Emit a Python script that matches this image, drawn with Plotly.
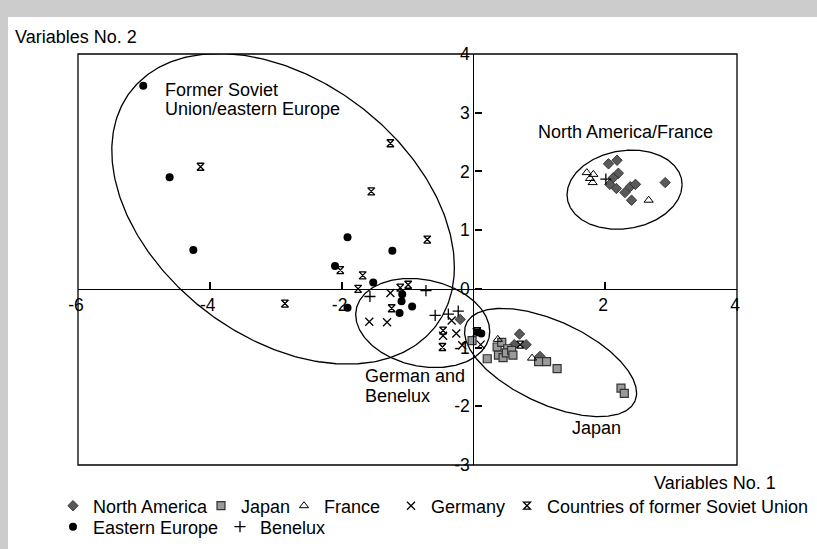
import numpy as np
import plotly.graph_objects as go

W, H = 817, 549
# plot frame in pixels (left, right, top, bottom)
PL, PR, PT, PB = 78, 737, 54, 465

FONT = "Liberation Sans, Arial, Helvetica, sans-serif"
FS = 17.5

x_range = [-6, 4]
y_range = [-3, 4]
x_ticks = [-6, -4, -2, 2, 4]
x_tick_labels = ["-6", "-4", "-2", "2", "4"]
y_ticks = [-3, -2, -1, 0, 1, 2, 3, 4]
y_tick_labels = ["-3", "-2", "-1", "0", "1", "2", "3", "4"]

# ---- country scores on the first two variables ----
north_america_x = [2.05, 2.18, 2.20, 2.12, 2.07, 2.17, 2.30, 2.38, 2.46, 2.40, 2.91,
                   -0.20, 0.70, 0.62, 0.80, 1.01]
north_america_y = [2.13, 2.19, 1.97, 1.89, 1.78, 1.71, 1.64, 1.74, 1.78, 1.51, 1.81,
                   -0.52, -0.77, -0.95, -0.95, -1.15]

japan_x = [-0.02, 0.21, 0.36, 0.43, 0.38, 0.45, 0.52, 0.50, 0.58, 0.60,
           0.99, 1.11, 1.27, 2.24, 2.29]
japan_y = [-0.88, -1.19, -0.99, -0.91, -1.13, -1.17, -1.02, -1.09, -1.05, -1.13,
           -1.24, -1.24, -1.36, -1.69, -1.78]

france_x = [1.72, 1.82, 1.77, 1.81, 2.66, 0.37, 0.89]
france_y = [1.98, 1.95, 1.88, 1.81, 1.51, -0.86, -1.18]

germany_x = [-1.26, -1.58, -1.31, -0.33, -0.26, -0.46, -0.17, 0.05, 0.11]
germany_y = [-0.07, -0.56, -0.57, -0.54, -0.76, -0.80, -0.96, -0.74, -0.95]

fsu_x = [-4.14, -1.26, -1.55, -0.70, -2.02, -1.68, -1.75, -1.11, -0.99, -2.86,
         -1.24, -0.46, -0.47, 0.06, 0.71]
fsu_y = [2.08, 2.48, 1.66, 0.84, 0.32, 0.23, 0.00, 0.02, 0.07, -0.25,
         -0.33, -0.71, -0.99, -0.72, -0.95]

eastern_x = [-5.01, -4.61, -4.25, -1.91, -2.10, -1.23, -1.52, -1.91, -1.08, -1.09,
             -0.93, -1.12, 0.12, 0.07]
eastern_y = [3.46, 1.90, 0.66, 0.88, 0.39, 0.65, 0.11, -0.32, -0.09, -0.21,
             -0.30, -0.41, -0.76, -0.74]

benelux_x = [-1.57, -0.72, -0.58, -0.38, -0.23, 2.01]
benelux_y = [-0.13, -0.03, -0.45, -0.43, -0.38, 1.87]

# ---- cluster ellipses: centre, half-extents along x / y, correlation ----
cluster_names = ["Former Soviet Union/eastern Europe", "German and Benelux",
                 "Japan", "North America/France"]
cluster_cx = [-2.888, -0.769, 1.171, 2.294]
cluster_cy = [1.363, -0.582, -1.254, 1.689]
cluster_sx = [2.599, 1.017, 1.305, 0.873]
cluster_sy = [2.645, 0.759, 0.9215, 0.674]
cluster_rho = [-0.375, -0.188, -0.565, 0.128]

xd = [PL / W, PR / W]
yd = [1 - PB / H, 1 - PT / H]

fig = go.Figure()

# ellipse outlines
t = np.linspace(0, 2 * np.pi, 361)
for name, cx, cy, sx, sy, rho in zip(cluster_names, cluster_cx, cluster_cy,
                                      cluster_sx, cluster_sy, cluster_rho):
    ex = cx + sx * np.cos(t)
    ey = cy + sy * (rho * np.cos(t) + np.sqrt(1 - rho ** 2) * np.sin(t))
    fig.add_trace(go.Scatter(x=ex, y=ey, mode="lines", name=name,
                             line=dict(color="black", width=1.3),
                             showlegend=False, hoverinfo="skip"))

# series: name, x, y, symbol, size, fill, line colour, line width, legend, legendwidth
series = [
    ("North America", north_america_x, north_america_y, "diamond", 8, "#5a5a5a", "#222222", 0.8, "legend", 103),
    ("Japan", japan_x, japan_y, "square", 8, "#9a9a9a", "#333333", 1.2, "legend", 38),
    ("France", france_x, france_y, "triangle-up-open", 8, "black", "black", 1.0, "legend", 62),
    ("Germany", germany_x, germany_y, "x-thin-open", 8, "black", "black", 1.3, "legend", 71),
    ("Countries of former Soviet Union", fsu_x, fsu_y, "hourglass-open", 7, "black", "black", 1.3, "legend", 262),
    ("Eastern Europe", eastern_x, eastern_y, "circle", 8, "black", "black", 0, "legend2", 122),
    ("Benelux", benelux_x, benelux_y, "cross-thin-open", 8, "black", "black", 1.3, "legend2", 75),
]
for name, xs, ys, sym, size, fill, lc, lw, lg, lwid in series:
    fig.add_trace(go.Scatter(
        x=xs, y=ys, mode="markers", name=name, legend=lg, legendwidth=lwid,
        marker=dict(symbol=sym, size=size, color=fill,
                    line=dict(color=lc, width=lw)),
        cliponaxis=False,
    ))

# cluster labels
labels = [
    ("Former Soviet", -4.709, 3.387, "left"),
    ("Union/eastern Europe", -4.709, 3.068, "left"),
    ("North America/France", 2.31, 2.671, "center"),
    ("German and", -1.68, -1.485, "left"),
    ("Benelux", -1.68, -1.826, "left"),
    ("Japan", 1.872, -2.37, "center"),
]
annotations = [dict(text=txt, x=x, y=y, xref="x", yref="y", xanchor=xa,
                    yanchor="middle", showarrow=False,
                    font=dict(family=FONT, size=18, color="black"))
               for txt, x, y, xa in labels]

# axis titles
annotations.append(dict(text="Variables No. 2", x=13 / W, y=1 - 37 / H,
                        xref="paper", yref="paper", xanchor="left", yanchor="middle",
                        showarrow=False, font=dict(family=FONT, size=18, color="black")))
annotations.append(dict(text="Variables No. 1", x=778 / W, y=1 - 483 / H,
                        xref="paper", yref="paper", xanchor="right", yanchor="middle",
                        showarrow=False, font=dict(family=FONT, size=18, color="black")))

shapes = [
    # white panel on the grey page
    dict(type="rect", xref="paper", yref="paper", x0=8 / W, x1=1, y0=0, y1=1 - 17 / H,
         fillcolor="white", line=dict(width=0), layer="below"),
    # plot frame
    dict(type="rect", xref="paper", yref="paper", x0=xd[0], x1=xd[1], y0=yd[0], y1=yd[1],
         line=dict(color="black", width=1.3), fillcolor="rgba(0,0,0,0)"),
]

axis_common = dict(showgrid=False, zeroline=False, showline=True, linecolor="black",
                   linewidth=1.3, ticks="inside", ticklen=7, tickwidth=1.5,
                   tickcolor="black", anchor="free",
                   tickfont=dict(family=FONT, size=FS, color="black"))

legend_common = dict(orientation="h", xanchor="left", yanchor="middle",
                     bgcolor="rgba(0,0,0,0)", itemwidth=30, traceorder="normal",
                     font=dict(family=FONT, size=18, color="black"))

fig.update_layout(
    width=W, height=H,
    margin=dict(l=0, r=0, t=0, b=0, autoexpand=False),
    paper_bgcolor="#cccccc",
    plot_bgcolor="rgba(0,0,0,0)",
    font=dict(family=FONT, size=FS, color="black"),
    xaxis=dict(domain=xd, range=x_range, tickvals=x_ticks, ticktext=x_tick_labels,
               side="bottom", ticklabelshift=-2,
               position=yd[0] + (0 - y_range[0]) / (y_range[1] - y_range[0]) * (yd[1] - yd[0]),
               **axis_common),
    yaxis=dict(domain=yd, range=y_range, tickvals=y_ticks, ticktext=y_tick_labels,
               side="left",
               position=xd[0] + (0 - x_range[0]) / (x_range[1] - x_range[0]) * (xd[1] - xd[0]),
               **axis_common),
    legend=dict(x=53 / W, y=1 - 506 / H, **legend_common),
    legend2=dict(x=53 / W, y=1 - 527 / H, **legend_common),
    annotations=annotations,
    shapes=shapes,
    showlegend=True,
)

fig.write_html("out.html")
